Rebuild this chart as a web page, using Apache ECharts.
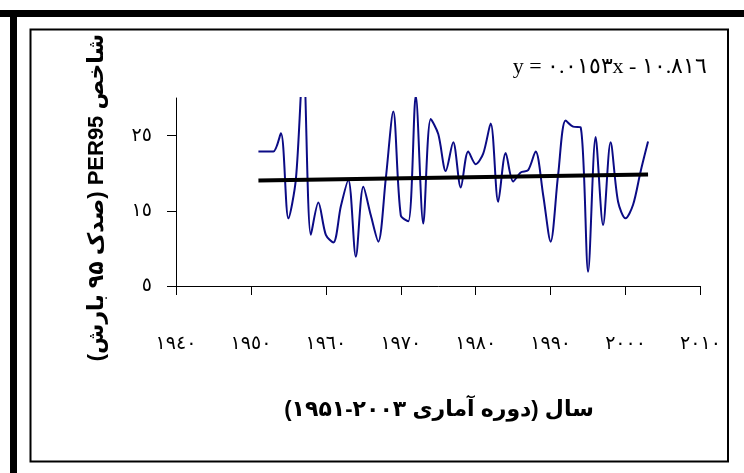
<!DOCTYPE html>
<html>
<head>
<meta charset="utf-8">
<script src="https://cdn.jsdelivr.net/npm/echarts@6/dist/echarts.min.js"></script>
<style>
html,body{margin:0;padding:0;background:#fff;}
#chart{width:744px;height:473px;}
</style>
</head>
<body>
<div id="chart"></div>
<script>
// ---- data ----
const years = [1951,1952,1953,1954,1955,1956,1957,1958,1959,1960,
               1961,1962,1963,1964,1965,1966,1967,1968,1969,1970,
               1971,1972,1973,1974,1975,1976,1977,1978,1979,1980,
               1981,1982,1983,1984,1985,1986,1987,1988,1989,1990,
               1991,1992,1993,1994,1995,1996,1997,1998,1999,2000,
               2001,2002,2003];
const per95 = [22.9,22.9,22.9,25.3,14.0,19.2,35.0,11.8,16.1,11.8,
               10.8,15.6,19.1,8.9,18.2,14.4,10.9,19.3,28.2,14.4,
               13.6,30.3,13.3,27.2,25.2,20.3,24.1,18.1,22.9,21.2,
               22.6,26.6,16.2,22.7,18.9,20.1,20.4,22.9,17.1,10.9,
               19.8,27.0,26.2,26.1,6.9,24.8,13.1,24.1,16.2,14.0,
               15.8,20.2,24.2];
const trendYears = [1951, 2003];
const trendValues = [19.03, 19.83];
const xTickValues = [1940,1950,1960,1970,1980,1990,2000,2010];
const xTickLabels = ['١٩٤٠','١٩٥٠','١٩٦٠','١٩٧٠','١٩٨٠','١٩٩٠','٢٠٠٠','٢٠١٠'];
const yTickValues = [5,15,25];
const yTickLabels = ['٥','١٥','٢٥'];
const yAxisTitle = 'شاخص PER95 (صدک ۹۵ بارش)';
const xAxisTitle = 'سال (دوره آماری ۲۰۰۳-۱۹۵۱)';
const equationText = 'y = ٠.٠١٥٣x - ١٠.٨١٦';

const RLE = '\u202B', PDF = '\u202C';
const SANS = '"Liberation Sans", "DejaVu Sans", sans-serif';

const chart = echarts.init(document.getElementById('chart'), null, {renderer: 'canvas'});

const option = {
  backgroundColor: '#ffffff',
  animation: false,
  grid: {left: 176, top: 98, width: 524.5, height: 188, containLabel: false},
  xAxis: {
    type: 'value', min: 1940, max: 2010, interval: 10,
    splitLine: {show: false},
    axisLine: {show: true, onZero: false, lineStyle: {color: '#000', width: 1}},
    axisTick: {show: true, inside: false, length: 9, lineStyle: {color: '#000', width: 1}},
    axisLabel: {
      margin: 48, color: '#000', fontSize: 19, fontFamily: SANS,
      formatter: v => { const i = xTickValues.indexOf(v); return i >= 0 ? xTickLabels[i] : ''; }
    }
  },
  yAxis: {
    type: 'value', min: 5, max: 30, interval: 10,
    splitLine: {show: false},
    axisLine: {show: true, onZero: false, lineStyle: {color: '#000', width: 1}},
    axisTick: {show: true, inside: false, length: 9, customValues: yTickValues, lineStyle: {color: '#000', width: 1}},
    axisLabel: {
      margin: 24, color: '#000', fontSize: 19, fontFamily: SANS,
      customValues: yTickValues,
      formatter: v => { const i = yTickValues.indexOf(v); return i >= 0 ? yTickLabels[i] : ''; }
    }
  },
  series: [
    {
      type: 'line', name: 'PER95',
      data: years.map((y, i) => [y, per95[i]]),
      smooth: 0.3, showSymbol: false, symbol: 'none', clip: true,
      lineStyle: {color: '#0b0b85', width: 2},
      z: 2
    },
    {
      type: 'line', name: 'trend',
      data: trendYears.map((y, i) => [y, trendValues[i]]),
      showSymbol: false, symbol: 'none',
      lineStyle: {color: '#000', width: 4},
      z: 3
    }
  ],
  graphic: [
    {type: 'rect', silent: true, shape: {x: 0, y: 10, width: 744, height: 7}, style: {fill: '#000'}},
    {type: 'rect', silent: true, shape: {x: 10, y: 10, width: 7, height: 463}, style: {fill: '#000'}},
    {type: 'rect', silent: true, shape: {x: 30.5, y: 29.5, width: 697.5, height: 432}, style: {fill: 'none', stroke: '#000', lineWidth: 2}},
    {
      type: 'text', silent: true, x: 97, y: 197.5, rotation: Math.PI / 2,
      style: {text: RLE + yAxisTitle + PDF, font: 'bold 22px ' + SANS, fill: '#000',
              textAlign: 'center', textVerticalAlign: 'middle', align: 'center', verticalAlign: 'middle'}
    },
    {
      type: 'text', silent: true, x: 439, y: 410,
      style: {text: RLE + xAxisTitle + PDF, font: 'bold 22px ' + SANS, fill: '#000',
              textAlign: 'center', textVerticalAlign: 'middle', align: 'center', verticalAlign: 'middle'}
    },
    {
      type: 'text', silent: true, x: 610, y: 67,
      style: {text: equationText, font: '22px "Liberation Serif", "DejaVu Serif", serif', fill: '#000',
              textAlign: 'center', textVerticalAlign: 'middle', align: 'center', verticalAlign: 'middle'}
    }
  ]
};
chart.setOption(option);
</script>
</body>
</html>
